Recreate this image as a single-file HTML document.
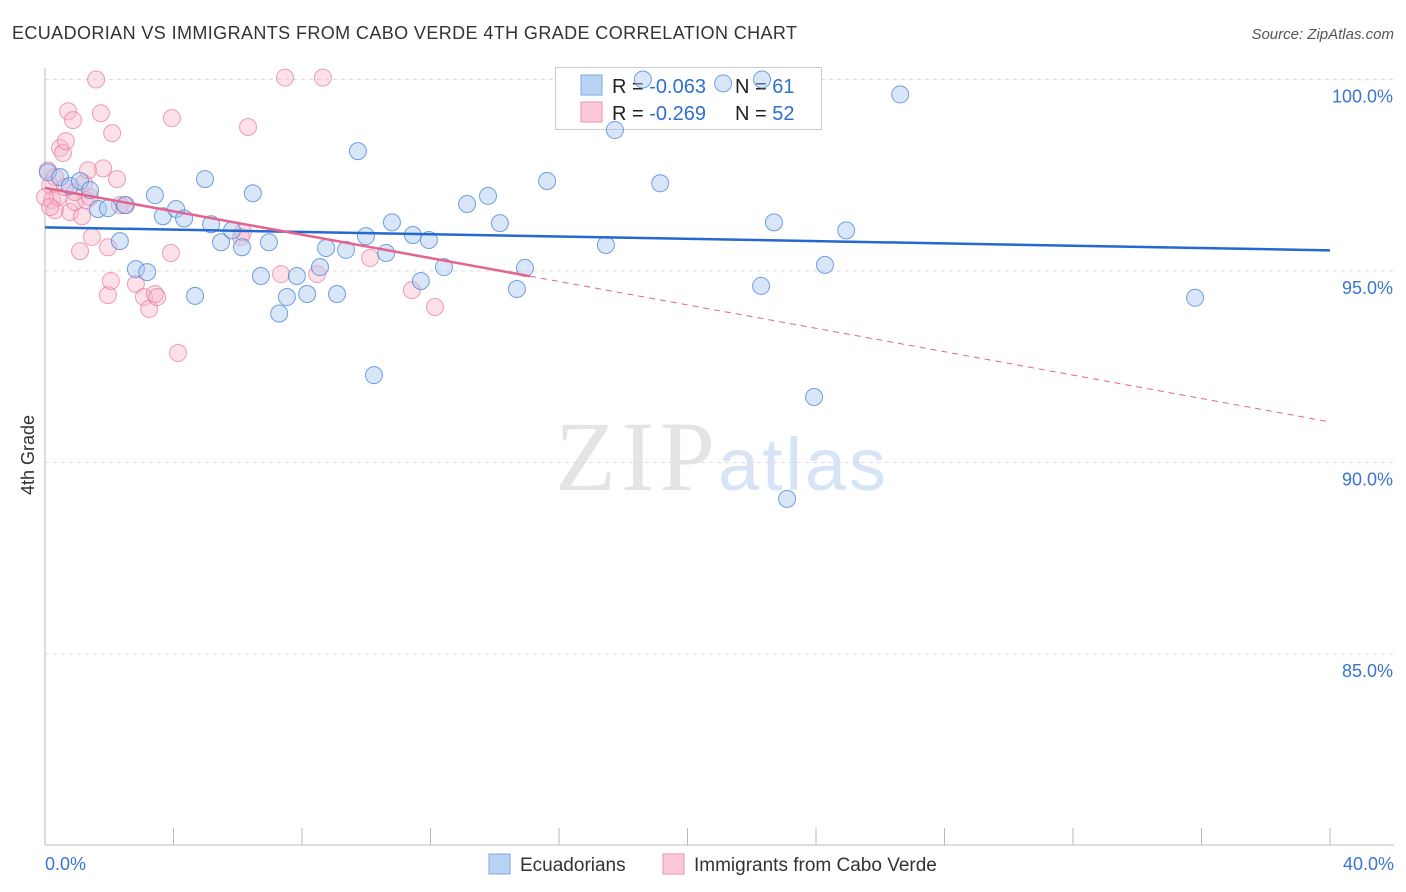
<!DOCTYPE html>
<html><head><meta charset="utf-8"><style>
body{margin:0;background:#fff;font-family:"Liberation Sans",sans-serif;}
svg{display:block}
</style></head><body>
<svg id="chart" width="1406" height="892" font-family="Liberation Sans, sans-serif">
<text x="12" y="39" font-size="18" fill="#333" textLength="785">ECUADORIAN VS IMMIGRANTS FROM CABO VERDE 4TH GRADE CORRELATION CHART</text>
<text x="1394" y="39" font-size="15" fill="#555" font-style="italic" text-anchor="end">Source: ZipAtlas.com</text>
<text x="555" y="490" font-size="100" fill="#e4e4e4" textLength="160" font-family="Liberation Serif, serif">ZIP</text>
<text x="718" y="490" font-size="74" fill="#d6e4f5" textLength="168">atlas</text>
<text transform="translate(34,455) rotate(-90)" font-size="18" fill="#333" text-anchor="middle">4th Grade</text>
<g id="grid"></g><g id="axes"></g>
<g>
<rect x="555.5" y="67.5" width="266" height="62" fill="#fff" stroke="#ccc"/>
<rect x="581" y="75" width="21" height="20" fill="#b9d3f5" stroke="#7aa7e3"/>
<rect x="581" y="102" width="21" height="20" fill="#fbc8d8" stroke="#ee92b0"/>
<text x="612" y="93" font-size="20" fill="#222">R = <tspan fill="#2f6fd0">-0.063</tspan></text>
<text x="735" y="93" font-size="20" fill="#222">N = <tspan fill="#2f6fd0"> 61</tspan></text>
<text x="612" y="120" font-size="20" fill="#222">R = <tspan fill="#2f6fd0"> -0.269</tspan></text>
<text x="735" y="120" font-size="20" fill="#222">N = <tspan fill="#2f6fd0">52</tspan></text>
</g>
<g id="pts"></g><g id="lines"></g>
<g>
<rect x="489" y="854" width="21" height="20" fill="#b9d3f5" stroke="#7aa7e3"/>
<text x="520" y="871" font-size="19" fill="#333">Ecuadorians</text>
<rect x="663" y="854" width="21" height="20" fill="#fbc8d8" stroke="#ee92b0"/>
<text x="694" y="871" font-size="19" fill="#333">Immigrants from Cabo Verde</text>
</g>
</svg>
<script>
const yTicks=[100,95,90,85];
const yTickLabels=["100.0%","95.0%","90.0%","85.0%"];
const xTicks=[0,4,8,12,16,20,24,28,32,36,40];
const blueX=[0.09,0.47,0.78,1.09,1.40,1.65,1.96,2.49,2.33,2.83,3.18,3.42,3.67,4.08,4.33,4.67,4.98,5.17,5.48,5.82,6.13,6.47,6.72,6.97,7.29,7.53,7.84,8.16,8.56,8.75,9.09,9.37,9.74,9.99,10.24,10.62,10.80,11.45,11.70,11.95,12.42,13.14,13.79,14.16,14.69,14.94,15.63,17.46,17.74,18.61,19.15,21.11,22.32,22.29,22.69,23.10,23.94,24.28,24.94,26.62,35.80];
const blueY=[97.58,97.45,97.22,97.35,97.11,96.62,96.64,96.72,95.78,95.05,94.97,96.98,96.43,96.62,96.37,94.35,97.40,96.22,95.75,96.06,95.62,97.03,94.87,95.75,93.89,94.32,94.87,94.40,95.10,95.60,94.40,95.55,98.13,95.91,92.28,95.47,96.27,95.94,94.74,95.81,95.10,96.75,96.96,96.25,94.53,95.08,97.35,95.68,98.68,100.0,97.29,99.90,100.0,94.61,96.27,89.05,91.71,95.16,96.06,99.61,94.30];
const pinkX=[0.09,0.16,0.22,0.31,0.40,0.47,0.56,0.65,0.72,0.78,0.87,0.93,1.09,1.15,1.21,1.28,1.34,1.40,1.46,1.59,1.74,1.81,1.96,1.96,2.05,2.09,2.24,2.33,2.52,2.83,3.08,3.24,3.42,3.49,3.92,3.95,4.14,6.10,6.16,6.32,7.35,7.47,8.47,8.65,10.12,11.42,12.14,0.31,0.62,0.93,0.0,0.16];
const pinkY=[97.63,97.24,96.85,96.59,96.93,98.21,98.08,98.39,99.17,96.54,98.94,96.80,95.52,96.43,97.29,96.85,97.63,96.93,95.89,100.0,99.12,97.68,95.62,94.37,94.74,98.60,97.40,96.72,96.72,94.66,94.32,94.01,94.40,94.32,95.47,98.99,92.86,95.89,96.01,98.76,94.92,100.05,94.92,100.05,95.34,94.50,94.06,97.45,97.19,97.06,96.93,96.67];
const blueFit=[96.14,95.54];
const pinkFit=[97.17,91.06];
const pinkSolidEnd=15.1;
const X=v=>45+v/40*1285, Y=v=>79.5+(100-v)/5*191.5;
const NS="http://www.w3.org/2000/svg";
function mk(tag,attrs,parent){const e=document.createElementNS(NS,tag);for(const k in attrs)e.setAttribute(k,attrs[k]);document.getElementById(parent).appendChild(e);return e;}
yTicks.forEach((t,i)=>{
 const g=mk('line',{x1:45,x2:1394,y1:Y(t),y2:Y(t),stroke:'#ddd','stroke-dasharray':'4,4'},'grid');
 
 
 const l=mk('text',{x:1393,y:Y(t)+23,'font-size':18,fill:'#3a75d0','text-anchor':'end'},'grid');
 l.textContent=yTickLabels[i];
 
 
});
const ax=mk('line',{x1:45,x2:45,y1:68,y2:845,stroke:'#bbb'},'axes');


const bx=mk('line',{x1:45,x2:1394,y1:845,y2:845,stroke:'#bbb'},'axes');


xTicks.forEach(t=>{const l=mk('line',{x1:X(t),x2:X(t),y1:828,y2:845,stroke:'#bbb'},'axes');
 
 });
[[0,"0.0%",'start',45],[40,"40.0%",'end',1394]].forEach(([v,s,a,px])=>{const t=mk('text',{x:px,y:870,'font-size':18,fill:'#3a75d0','text-anchor':a},'axes');t.textContent=s;
 
 });
pinkX.forEach((x,i)=>{const c=mk('circle',{cx:X(x),cy:Y(pinkY[i]),r:8.5,fill:'rgba(248,180,200,0.4)',stroke:'rgba(232,120,155,0.7)'},'pts');
 
 });
blueX.forEach((x,i)=>{const c=mk('circle',{cx:X(x),cy:Y(blueY[i]),r:8.5,fill:'rgba(170,200,240,0.45)',stroke:'rgba(70,130,215,0.75)'},'pts');
 
 });
const pf=x=>pinkFit[0]+(pinkFit[1]-pinkFit[0])*x/40;
const l1=mk('line',{x1:X(0),y1:Y(blueFit[0]),x2:X(40),y2:Y(blueFit[1]),stroke:'#2468d0','stroke-width':2.5},'lines');


const l2=mk('line',{x1:X(0),y1:Y(pf(0)),x2:X(pinkSolidEnd),y2:Y(pf(pinkSolidEnd)),stroke:'#e4648e','stroke-width':2.5},'lines');


const l3=mk('line',{x1:X(pinkSolidEnd),y1:Y(pf(pinkSolidEnd)),x2:X(40),y2:Y(pf(40)),stroke:'#e4648e','stroke-width':1,'stroke-dasharray':'6,5'},'lines');


</script>
</body></html>
